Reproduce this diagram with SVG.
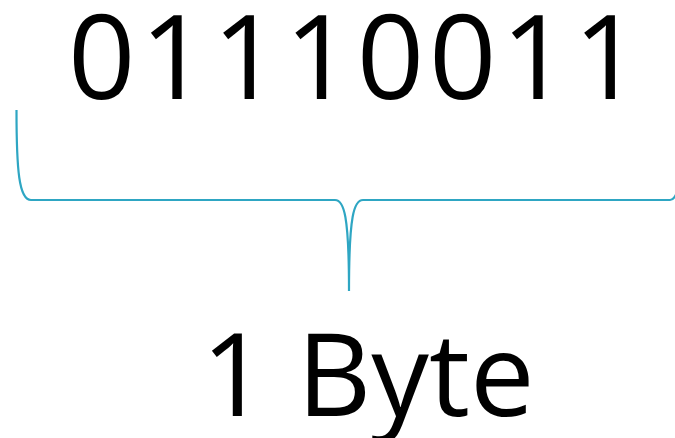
<svg xmlns="http://www.w3.org/2000/svg" width="675" height="438" viewBox="0 0 675 438">
<style>
.t{font-family:"Open Sans","Noto Sans","Liberation Sans",sans-serif;font-weight:500;fill:#000;}
.br{fill:none;stroke:#2ea6c3;stroke-width:2.2;stroke-linecap:butt;}
</style>
<rect width="675" height="438" fill="#fff"/>
<g id="bits"><text class="t" x="68" y="99" font-size="118" textLength="573" lengthAdjust="spacing">01110011</text></g>
<g id="connectors"><path class="br" d="M16.5,110 C16.5,170 19,200 31,200 L335,200 C344,200 349,215 349,291 C349,215 354,200 363,200 L670,200 C680,200 682,170 682,110"/></g>
<g id="byte"><text class="t" x="368" y="416" font-size="115" text-anchor="middle">1 Byte</text></g>
</svg>
